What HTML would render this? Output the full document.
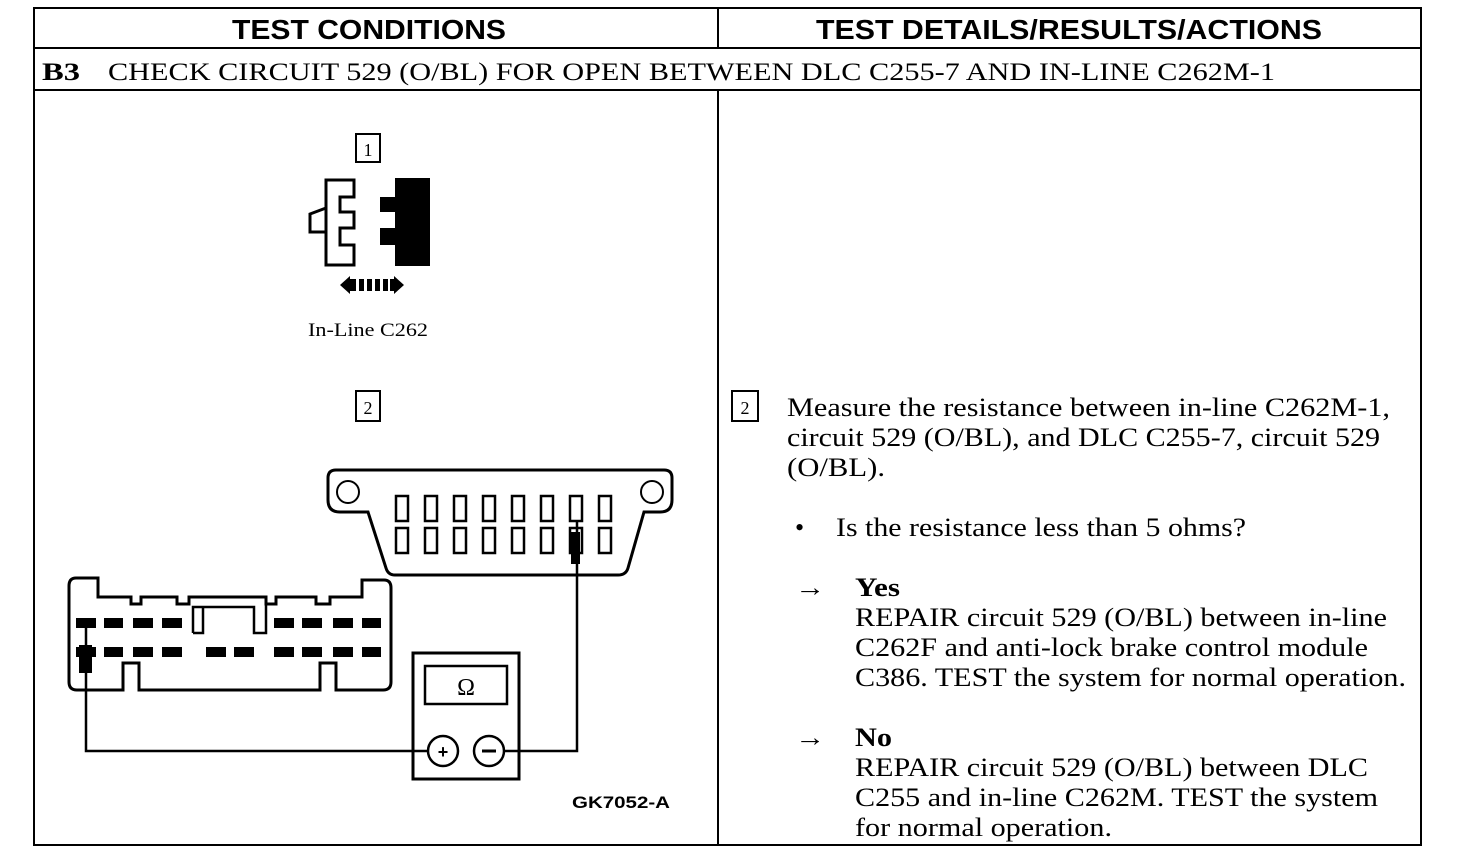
<!DOCTYPE html>
<html><head><style>
body{margin:0;background:#fff;}
svg{display:block}
.s{font-family:"Liberation Serif",serif;fill:#000}
.h{font-family:"Liberation Sans",sans-serif;font-weight:bold;fill:#000}
</style></head><body>
<svg width="1472" height="864" viewBox="0 0 1472 864">
<g fill="none" stroke="#000" stroke-width="2">
<rect x="34" y="8" width="1387" height="837"/>
<line x1="34" y1="48" x2="1421" y2="48"/>
<line x1="34" y1="90" x2="1421" y2="90"/>
<line x1="718" y1="8" x2="718" y2="48"/>
<line x1="718" y1="90" x2="718" y2="845"/>
</g>
<text class="h" x="232" y="39" font-size="28" textLength="274" lengthAdjust="spacingAndGlyphs">TEST CONDITIONS</text>
<text class="h" x="816" y="39" font-size="28" textLength="506" lengthAdjust="spacingAndGlyphs">TEST DETAILS/RESULTS/ACTIONS</text>
<text class="s" x="42" y="80" font-size="25" font-weight="bold" textLength="38" lengthAdjust="spacingAndGlyphs">B3</text>
<text class="s" x="108" y="80" font-size="25" textLength="1167" lengthAdjust="spacingAndGlyphs">CHECK CIRCUIT 529 (O/BL) FOR OPEN BETWEEN DLC C255-7 AND IN-LINE C262M-1</text>

<!-- step 1 -->
<rect x="356" y="134" width="24" height="28" fill="none" stroke="#000" stroke-width="2"/>
<text class="s" x="368" y="156" font-size="18" text-anchor="middle">1</text>
<path d="M326 180 H354 V197 H340 V212 H354 V228 H340 V245 H354 V265 H326 Z" fill="none" stroke="#000" stroke-width="3"/>
<path d="M326 208 L310 214 V232 L326 232" fill="none" stroke="#000" stroke-width="3"/>
<path d="M395 178 H430 V266 H395 V245 H380 V228 H395 V212 H380 V197 H395 Z" fill="#000"/>
<path d="M340 285 L350 276 V294 Z M404 285 L394 276 V294 Z" fill="#000"/>
<g fill="#000"><rect x="350" y="279" width="6" height="12"/><rect x="359" y="279" width="5" height="12"/><rect x="367" y="279" width="5" height="12"/><rect x="375" y="279" width="5" height="12"/><rect x="383" y="279" width="5" height="12"/><rect x="390" y="279" width="5" height="12"/></g>
<text class="s" x="308" y="336" font-size="19" textLength="120" lengthAdjust="spacingAndGlyphs">In-Line C262</text>

<!-- step 2 -->
<rect x="356" y="391" width="24" height="30" fill="none" stroke="#000" stroke-width="2"/>
<text class="s" x="368" y="414" font-size="18" text-anchor="middle">2</text>

<!-- DLC -->
<path d="M336 470 H664 Q672 470 672 478 V500 Q672 512 660 512 H644 L628 568 Q626 575 618 575 H395 Q388 575 386 568 L368 512 H340 Q328 512 328 500 V478 Q328 470 336 470 Z" fill="none" stroke="#000" stroke-width="3"/>
<circle cx="348" cy="492" r="11" fill="none" stroke="#000" stroke-width="2"/>
<circle cx="652" cy="492" r="11" fill="none" stroke="#000" stroke-width="2"/>
<g fill="none" stroke="#000" stroke-width="2.5">
<rect x="396" y="496" width="12" height="25"/><rect x="425" y="496" width="12" height="25"/><rect x="454" y="496" width="12" height="25"/><rect x="483" y="496" width="12" height="25"/><rect x="512" y="496" width="12" height="25"/><rect x="541" y="496" width="12" height="25"/><rect x="570" y="496" width="12" height="25"/><rect x="599" y="496" width="12" height="25"/>
<rect x="396" y="528" width="12" height="25"/><rect x="425" y="528" width="12" height="25"/><rect x="454" y="528" width="12" height="25"/><rect x="483" y="528" width="12" height="25"/><rect x="512" y="528" width="12" height="25"/><rect x="541" y="528" width="12" height="25"/><rect x="570" y="528" width="12" height="25"/><rect x="599" y="528" width="12" height="25"/>
</g>
<rect x="571" y="532" width="9" height="32" fill="#000"/>

<!-- left connector -->
<path d="M76 578 H98 V597 H131 V604 H141 V597 H177 V604 H189 V597 H266 V604 H276 V597 H316 V604 H330 V597 H362 V580 H384 Q391 580 391 588 V682 Q391 690 383 690 H336 V663 H320 V690 H139 V663 H123 V690 H77 Q69 690 69 682 V586 Q69 578 76 578 Z" fill="none" stroke="#000" stroke-width="3"/>
<path d="M193 633 V607 H254 V633 H266 V597 M193 633 H203 V607" fill="none" stroke="#000" stroke-width="2.5"/>
<g fill="#000">
<rect x="76" y="618" width="20" height="10"/><rect x="104" y="618" width="19" height="10"/><rect x="133" y="618" width="20" height="10"/><rect x="162" y="618" width="20" height="10"/><rect x="274" y="618" width="20" height="10"/><rect x="302" y="618" width="20" height="10"/><rect x="333" y="618" width="20" height="10"/><rect x="362" y="618" width="19" height="10"/>
<rect x="76" y="647" width="20" height="10"/><rect x="104" y="647" width="19" height="10"/><rect x="133" y="647" width="20" height="10"/><rect x="162" y="647" width="20" height="10"/><rect x="206" y="647" width="20" height="10"/><rect x="234" y="647" width="20" height="10"/><rect x="274" y="647" width="20" height="10"/><rect x="302" y="647" width="20" height="10"/><rect x="333" y="647" width="20" height="10"/><rect x="362" y="647" width="19" height="10"/>
<rect x="79" y="645" width="13" height="28"/>
</g>
<!-- meter -->
<rect x="413" y="653" width="106" height="126" fill="none" stroke="#000" stroke-width="3"/>
<rect x="425" y="666" width="82" height="38" fill="none" stroke="#000" stroke-width="2.5"/>
<text class="s" x="466" y="695" font-size="24" text-anchor="middle">Ω</text>
<circle cx="443" cy="751" r="15" fill="none" stroke="#000" stroke-width="2.5"/>
<circle cx="489" cy="751" r="15" fill="none" stroke="#000" stroke-width="2.5"/>
<text class="h" x="443" y="758" font-size="18" text-anchor="middle">+</text>
<line x1="482" y1="751" x2="496" y2="751" stroke="#000" stroke-width="3"/>
<path d="M86 620 V751 H428 M504 751 H577 V520" fill="none" stroke="#000" stroke-width="2.5"/>
<text class="h" x="572" y="808" font-size="17" textLength="98" lengthAdjust="spacingAndGlyphs">GK7052-A</text>

<!-- right column -->
<rect x="732" y="391" width="26" height="30" fill="none" stroke="#000" stroke-width="2"/>
<text class="s" x="745" y="414" font-size="18" text-anchor="middle">2</text>
<g class="s" font-size="26" lengthAdjust="spacingAndGlyphs">
<text x="787" y="416" textLength="603" lengthAdjust="spacingAndGlyphs">Measure the resistance between in-line C262M-1,</text>
<text x="787" y="446" textLength="593" lengthAdjust="spacingAndGlyphs">circuit 529 (O/BL), and DLC C255-7, circuit 529</text>
<text x="787" y="476" textLength="98" lengthAdjust="spacingAndGlyphs">(O/BL).</text>
<text x="795" y="536">•</text>
<text x="836" y="536" textLength="410" lengthAdjust="spacingAndGlyphs">Is the resistance less than 5 ohms?</text>
<text x="795" y="596" textLength="30" lengthAdjust="spacingAndGlyphs">→</text>
<text x="855" y="596" font-weight="bold" textLength="45" lengthAdjust="spacingAndGlyphs">Yes</text>
<text x="855" y="626" textLength="532" lengthAdjust="spacingAndGlyphs">REPAIR circuit 529 (O/BL) between in-line</text>
<text x="855" y="656" textLength="513" lengthAdjust="spacingAndGlyphs">C262F and anti-lock brake control module</text>
<text x="855" y="686" textLength="551" lengthAdjust="spacingAndGlyphs">C386. TEST the system for normal operation.</text>
<text x="795" y="746" textLength="30" lengthAdjust="spacingAndGlyphs">→</text>
<text x="855" y="746" font-weight="bold" textLength="37" lengthAdjust="spacingAndGlyphs">No</text>
<text x="855" y="776" textLength="513" lengthAdjust="spacingAndGlyphs">REPAIR circuit 529 (O/BL) between DLC</text>
<text x="855" y="806" textLength="523" lengthAdjust="spacingAndGlyphs">C255 and in-line C262M. TEST the system</text>
<text x="855" y="836" textLength="257" lengthAdjust="spacingAndGlyphs">for normal operation.</text>
</g>
</svg>
</body></html>
